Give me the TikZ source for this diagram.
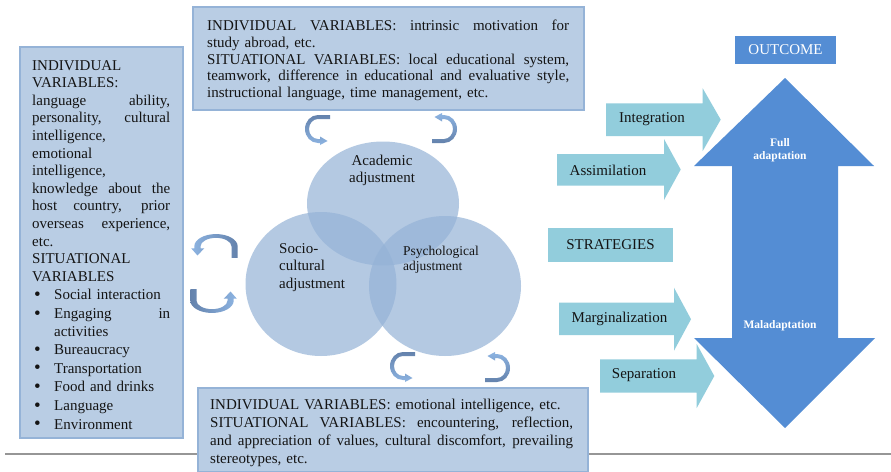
\documentclass[tikz,border=0pt]{standalone}
\usepackage{fontspec}
\setmainfont{Liberation Serif}
\definecolor{boxfill}{RGB}{185,205,228}
\definecolor{boxline}{RGB}{149,179,215}
\definecolor{circfill}{RGB}{149,179,215}
\definecolor{strat}{RGB}{146,205,220}
\definecolor{outc}{RGB}{84,141,212}
\definecolor{cdark}{RGB}{100,130,172}
\definecolor{clight}{RGB}{141,180,226}
\definecolor{rulegray}{RGB}{150,150,150}
\definecolor{txt}{RGB}{20,20,20}
\newcommand\bigbul{\raisebox{-0.6pt}{\fontsize{19}{19}\selectfont\textbullet}}
\newcommand\linel[1]{\hbox to \hsize{#1\hfil}}
\newcommand\linej[1]{\hbox to \hsize{\spaceskip=0.25em plus 1fil minus 0.05em\relax #1}}
\newcommand\lineb[1]{\hbox to \hsize{\hskip2pt\hbox to 20pt{\bigbul\hfil}#1\hfil}}
\newcommand\linebj[1]{\hbox to \hsize{\hskip2pt\hbox to 20pt{\bigbul\hfil}\spaceskip=0.25em plus 1fil\relax #1}}
\newcommand\linei[1]{\hbox to \hsize{\hskip22pt #1\hfil}}
\newcommand\curvarr[4]{%
  \begin{scope}[shift={(#1,#2)},#3]
    \shade[#4] (12,14) -- (0,14) arc[start angle=90,end angle=270,x radius=13,y radius=14]
      -- (2,-14) -- (2,-16) -- (9.5,-12) -- (2,-7.5) -- (2,-10) -- (0,-10)
      arc[start angle=270,end angle=90,x radius=9,y radius=10] -- (12,10) -- cycle;
  \end{scope}}
\tikzset{
  varbox/.style={fill=boxfill, draw=boxline, line width=1.5pt},
  vartext/.style={anchor=north west, inner sep=0pt, text=txt},
  circ/.style={fill=circfill, fill opacity=0.7},
  stratarrow/.style={fill=strat},
  lbl/.style={inner sep=0pt, text=txt, font=\fontsize{15}{17.6}\selectfont},
  whitelbl/.style={inner sep=0pt, text=white, align=center, font=\bfseries\fontsize{11.5}{13.4}\selectfont},
}
\begin{document}
\begin{tikzpicture}[x=1pt,y=-1pt]
\useasboundingbox (0,0) rectangle (891,471);
\fill[white] (0,0) rectangle (891,471);
% horizontal rule
\coordinate (ruleL) at (5,454);
\coordinate (ruleR) at (891,454);
\draw[rulegray, line width=1.5pt] (ruleL) -- (ruleR);

% left box
\draw[varbox] (20,47) rectangle (183,438);
\node[vartext, text width=138pt, font=\fontsize{15}{17.6}\selectfont] (lefttext) at (32,60) {%
\linel{INDIVIDUAL}
\linel{VARIABLES:}
\linej{language ability,}
\linej{personality, cultural}
\linel{intelligence,}
\linel{emotional}
\linel{intelligence,}
\linej{knowledge about the}
\linej{host country, prior}
\linej{overseas experience,}
\linel{etc.}
\linel{SITUATIONAL}
\linel{VARIABLES}
\vskip1pt
\lineb{Social interaction}
\vskip1pt
\linebj{Engaging in}
\linei{activities}
\vskip1pt
\lineb{Bureaucracy}
\vskip1pt
\lineb{Transportation}
\vskip1pt
\lineb{Food and drinks}
\vskip1pt
\lineb{Language}
\vskip1pt
\lineb{Environment}};

% top box
\draw[varbox] (193,7) rectangle (584,110);
\node[vartext, text width=362pt, font=\fontsize{15}{16.7}\selectfont] (toptext) at (207,20) {%
\linej{INDIVIDUAL VARIABLES: intrinsic motivation for}
\linel{study abroad, etc.}
\linej{SITUATIONAL VARIABLES: local educational system,}
\linej{teamwork, difference in educational and evaluative style,}
\linel{instructional language, time management, etc.}};

% bottom box
\draw[varbox] (198,388) rectangle (588,472);
\node[vartext, text width=363pt, font=\fontsize{15}{18.3}\selectfont] (bottext) at (210,398.4) {%
\linel{INDIVIDUAL VARIABLES: emotional intelligence, etc.}
\linej{SITUATIONAL VARIABLES: encountering, reflection,}
\linej{and appreciation of values, cultural discomfort, prevailing}
\linel{stereotypes, etc.}};

% circles
\fill[circ] (383,203.5) ellipse [x radius=76, y radius=62];
\fill[circ] (321,284) ellipse [x radius=75.5, y radius=72];
\fill[circ] (445,286) ellipse [x radius=76, y radius=70];
\node[lbl, align=center] (acad) at (382,170.5) {Academic\\adjustment};
\node[lbl, align=left, anchor=west] (socio) at (279,267.5) {Socio-\\cultural\\adjustment};
\node[lbl, align=left, anchor=west, font=\fontsize{13.5}{15}\selectfont] (psych) at (403,259.5) {Psychological\\adjustment};

% curved arrows
\curvarr{318}{129}{yscale=-1}{top color=cdark, bottom color=clight}
\curvarr{444}{129}{rotate=180, yscale=-1}{top color=clight, bottom color=cdark}
\curvarr{403}{366}{yscale=-1}{top color=cdark, bottom color=clight}
\curvarr{497}{368}{rotate=180, yscale=-1}{top color=clight, bottom color=cdark}
\curvarr{216}{246.4}{rotate=-90, xscale=0.95, yscale=-1.55}{left color=clight, right color=cdark}
\curvarr{212}{300.6}{rotate=90, xscale=0.95, yscale=-1.55}{left color=cdark, right color=clight}

% strategy arrows
\fill[stratarrow] (606,103.3) -- (702.7,103.3) -- (702.7,88.3) -- (720.7,119.6) -- (702.7,151) -- (702.7,136) -- (606,136) -- cycle;
\fill[stratarrow] (557,154) -- (664,154) -- (664,139) -- (680.7,169.5) -- (664,200) -- (664,185.7) -- (557,185.7) -- cycle;
\fill[stratarrow] (559,302.7) -- (674,302.7) -- (674,287.7) -- (691,319.2) -- (674,350.7) -- (674,335) -- (559,335) -- cycle;
\fill[stratarrow] (600,359.3) -- (696.7,359.3) -- (696.7,344) -- (714.3,376) -- (696.7,408) -- (696.7,392.7) -- (600,392.7) -- cycle;
\fill[stratarrow] (548,228) rectangle (673,262);
\node[lbl] (integ) at (652,119) {Integration};
\node[lbl] (assim) at (608,170) {Assimilation};
\node[lbl] (strat) at (610.5,245) {STRATEGIES};
\node[lbl] (margin) at (619.5,318.5) {Marginalization};
\node[lbl] (separ) at (644,375.5) {Separation};

% outcome
\fill[outc] (735,36) rectangle (836,63.5);
\node[lbl, text=white] (outcome) at (785.5,49.8) {OUTCOME};
\fill[outc] (785,78) -- (874,166) -- (838,166) -- (838,338) -- (875,338) -- (785,428) -- (694,338) -- (732,338) -- (732,166) -- (694,166) -- cycle;
\node[whitelbl] (full) at (780,150) {Full\\adaptation};
\node[whitelbl] (mal) at (780,326) {Maladaptation};
\end{tikzpicture}
\end{document}
